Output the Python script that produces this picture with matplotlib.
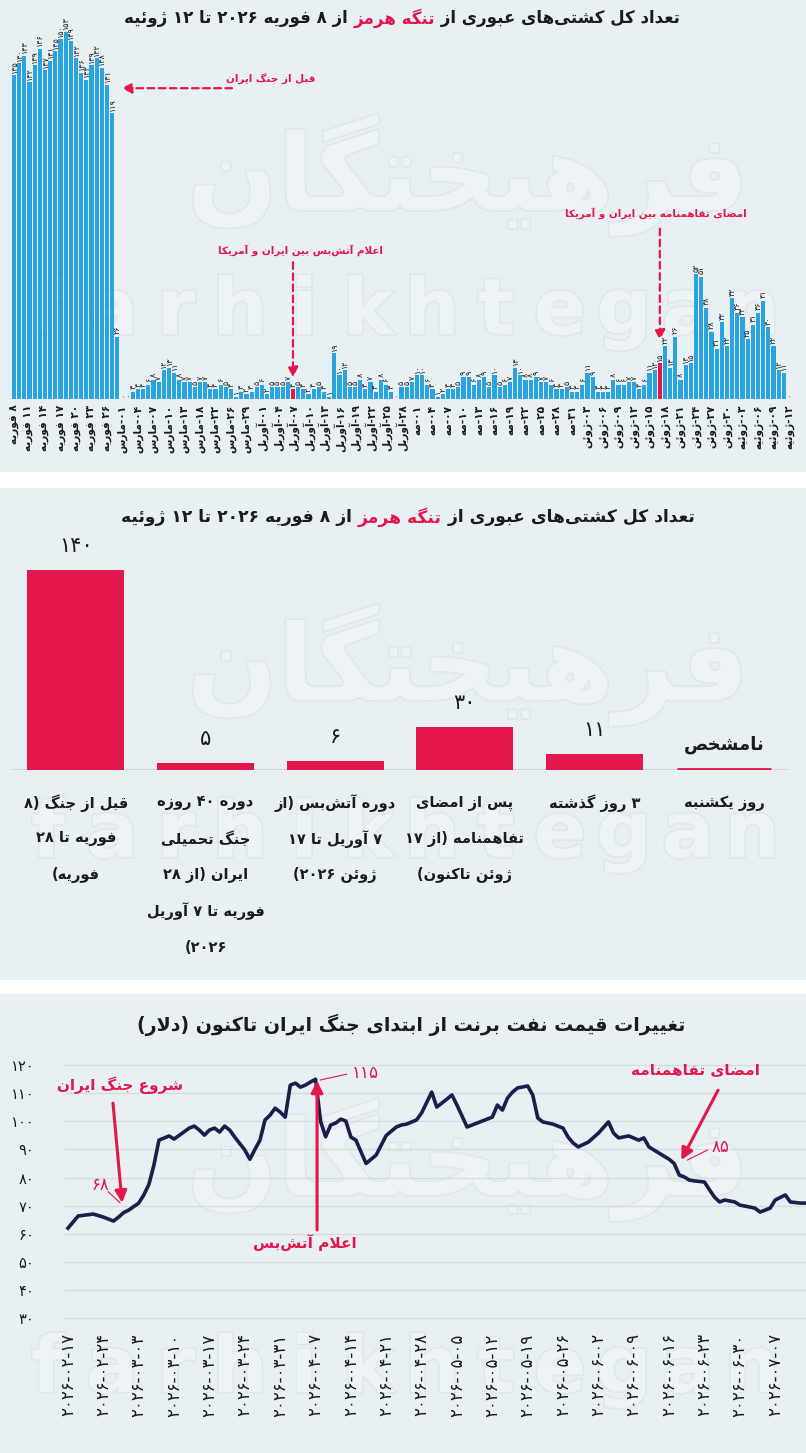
import re
import numpy as np
import pandas as pd
import matplotlib.pyplot as plt
import matplotlib.patheffects as pe
from matplotlib import transforms
from matplotlib.patches import Rectangle

plt.rcParams['font.family'] = ['DejaVu Sans']

W, H = 806, 1453
RED = '#e3174b'
BLUE = '#29a4de'
NAVY = '#1c1d4a'
BG = '#e8f0f3'
INK = '#1b1b1b'

# ---------------- data ----------------
# chart 1: ships through the strait, one bar per reported day
feb_counts = [135, 140, 143, 132, 139, 146, 137, 141, 145, 150, 153, 149, 142, 136,
              133, 139, 142, 138, 131, 119, 26]                       # 8-28 Feb
early_mar_counts = [0, 0, 3, 4, 4, 6, 8, 7, 12, 13, 11, 8, 7]          # 1-13 Mar
late_mar_counts = [7, 5, 7, 7, 4, 4, 6, 5, 4, 1, 3, 2, 3, 5]           # reported days 15-31 Mar
apr_counts = [6, 2, 5, 5, 5, 7, 4, 5, 4, 2, 4, 5, 3, 1, 19, 10, 12, 5, 5, 8,
              4, 7, 3, 8, 6, 3, 0, 5, 5, 7]
may_counts = [10, 10, 6, 4, 1, 2, 4, 4, 5, 9, 9, 6, 8, 9, 5, 10, 5, 6, 7, 13,
              10, 8, 8, 9, 7, 7, 6, 4, 4, 5, 3]
jun_counts = [3, 6, 11, 9, 3, 3, 3, 8, 6, 6, 7, 7, 4, 6, 11, 12, 15, 22, 13, 26,
              8, 14, 15, 52, 51, 38, 28, 21, 32, 22]
jul_counts = [42, 36, 34, 25, 31, 36, 41, 30, 22, 12, 11, 0]

late_mar_dates = ['2026-03-15', '2026-03-16', '2026-03-18', '2026-03-20', '2026-03-21',
                  '2026-03-22', '2026-03-24', '2026-03-25', '2026-03-26', '2026-03-27',
                  '2026-03-28', '2026-03-29', '2026-03-30', '2026-03-31']
ship_dates = (list(pd.date_range('2026-02-08', '2026-03-13'))
              + list(pd.to_datetime(late_mar_dates))
              + list(pd.date_range('2026-04-01', '2026-07-12')))
ship_counts = (feb_counts + early_mar_counts + late_mar_counts + apr_counts
               + may_counts + jun_counts + jul_counts)
highlight_dates = pd.to_datetime(['2026-04-07', '2026-06-17'])  # ceasefire, agreement

ship_ticks = ['۸ فوریه', '۱۱ فوریه', '۱۴ فوریه', '۱۷ فوریه', '۲۰ فوریه', '۲۳ فوریه', '۲۶ فوریه',
              '۰۱-مارس', '۰۴-مارس', '۰۷-مارس', '۱۰-مارس', '۱۳-مارس', '۱۸-مارس', '۲۲-مارس',
              '۲۶-مارس', '۲۹-مارس',
              '۰۱-آوریل', '۰۴-آوریل', '۰۷-آوریل', '۱۰-آوریل', '۱۳-آوریل', '۱۶-آوریل',
              '۱۹-آوریل', '۲۲-آوریل', '۲۵-آوریل', '۲۸-آوریل',
              '۰۱-مه', '۰۴-مه', '۰۷-مه', '۱۰-مه', '۱۳-مه', '۱۶-مه', '۱۹-مه', '۲۲-مه',
              '۲۵-مه', '۲۸-مه', '۳۱-مه',
              '۰۳-ژوئن', '۰۶-ژوئن', '۰۹-ژوئن', '۱۲-ژوئن', '۱۵-ژوئن', '۱۸-ژوئن', '۲۱-ژوئن',
              '۲۴-ژوئن', '۲۷-ژوئن', '۳۰-ژوئن',
              '۰۳-ژوئیه', '۰۶-ژوئیه', '۰۹-ژوئیه', '۱۲-ژوئیه']

# chart 2: average per period
period_labels = ['قبل از جنگ (۸\nفوریه تا ۲۸\nفوریه)',
                 'دوره ۴۰ روزه\nجنگ تحمیلی\nایران (از ۲۸\nفوریه تا ۷ آوریل\n۲۰۲۶)',
                 'دوره آتش‌بس (از\n۷ آوریل تا ۱۷\nژوئن ۲۰۲۶)',
                 'پس از امضای\nتفاهمنامه (از ۱۷\nژوئن تاکنون)',
                 '۳ روز گذشته',
                 'روز یکشنبه']
period_values = [140, 5, 6, 30, 11, None]

# chart 3: Brent price (USD)
brent_dates = ['2026-02-17', '2026-02-19', '2026-02-22', '2026-02-24', '2026-02-26', '2026-02-27',
               '2026-02-28', '2026-03-01', '2026-03-03', '2026-03-04', '2026-03-05', '2026-03-06',
               '2026-03-07', '2026-03-09', '2026-03-10', '2026-03-13', '2026-03-14', '2026-03-15',
               '2026-03-16', '2026-03-17', '2026-03-18', '2026-03-19', '2026-03-20', '2026-03-21',
               '2026-03-22', '2026-03-24', '2026-03-25', '2026-03-26', '2026-03-27', '2026-03-28',
               '2026-03-29', '2026-03-30', '2026-03-31', '2026-04-01', '2026-04-02', '2026-04-03',
               '2026-04-04', '2026-04-05', '2026-04-06', '2026-04-07', '2026-04-08', '2026-04-09',
               '2026-04-10', '2026-04-11', '2026-04-12', '2026-04-13', '2026-04-14', '2026-04-15',
               '2026-04-17', '2026-04-19', '2026-04-21', '2026-04-23', '2026-04-24', '2026-04-25',
               '2026-04-27', '2026-04-28', '2026-04-30', '2026-05-01', '2026-05-03', '2026-05-04',
               '2026-05-05', '2026-05-07', '2026-05-09', '2026-05-12', '2026-05-13', '2026-05-14',
               '2026-05-15', '2026-05-16', '2026-05-17', '2026-05-19', '2026-05-20', '2026-05-21',
               '2026-05-22', '2026-05-24', '2026-05-26', '2026-05-27', '2026-05-28', '2026-05-29',
               '2026-05-31', '2026-06-02', '2026-06-04', '2026-06-05', '2026-06-06', '2026-06-08',
               '2026-06-10', '2026-06-11', '2026-06-12', '2026-06-14', '2026-06-16', '2026-06-17',
               '2026-06-18', '2026-06-19', '2026-06-20', '2026-06-21', '2026-06-23', '2026-06-24',
               '2026-06-25', '2026-06-26', '2026-06-27', '2026-06-29', '2026-06-30', '2026-07-03',
               '2026-07-04', '2026-07-06', '2026-07-07', '2026-07-09', '2026-07-10', '2026-07-12',
               '2026-07-13']
brent_values = [62.0, 66.3, 67.0, 65.9, 64.5, 65.9,
                67.5, 68.4, 70.9, 73.8, 77.5, 84.4,
                93.3, 94.8, 93.7, 97.6, 98.3, 96.9,
                95.1, 96.9, 97.6, 96.2, 98.3, 96.9,
                94.4, 89.8, 86.5, 90.0, 93.3, 100.5,
                102.2, 104.7, 103.3, 101.5, 112.9, 113.6,
                112.2, 112.9, 114.0, 115.0, 100.0, 94.5,
                98.7, 99.4, 100.8, 100.1, 94.4, 93.3,
                85.0, 88.0, 95.0, 98.0, 98.7, 99.0,
                100.5, 103.0, 110.4, 105.1, 107.9, 109.4,
                105.8, 98.0, 99.4, 101.5, 105.8, 104.0,
                108.3, 110.4, 111.9, 112.6, 109.4, 101.2,
                99.8, 99.0, 97.6, 94.4, 92.3, 90.9,
                92.6, 95.8, 99.8, 95.8, 94.1, 94.8,
                93.3, 94.1, 90.9, 88.7, 86.5, 85.0,
                80.9, 80.2, 79.1, 78.8, 78.4, 75.6,
                73.0, 71.3, 72.0, 71.3, 70.2, 69.1,
                67.7, 69.1, 72.0, 73.8, 71.3, 70.9,
                70.9]
brent_yticks = [30, 40, 50, 60, 70, 80, 90, 100, 110, 120]

# ---------------- persian text helpers ----------------
FA_DIGITS = str.maketrans('0123456789', '۰۱۲۳۴۵۶۷۸۹')


def fa(v):
    return str(v).translate(FA_DIGITS)


# isolated, final, initial, medial presentation forms
FORMS = {
    'آ': '\uFE81\uFE82', 'أ': '\uFE83\uFE84', 'ؤ': '\uFE85\uFE86', 'إ': '\uFE87\uFE88',
    'ئ': '\uFE89\uFE8A\uFE8B\uFE8C', 'ا': '\uFE8D\uFE8E', 'ب': '\uFE8F\uFE90\uFE91\uFE92',
    'ة': '\uFE93\uFE94', 'ت': '\uFE95\uFE96\uFE97\uFE98', 'ث': '\uFE99\uFE9A\uFE9B\uFE9C',
    'ج': '\uFE9D\uFE9E\uFE9F\uFEA0', 'ح': '\uFEA1\uFEA2\uFEA3\uFEA4', 'خ': '\uFEA5\uFEA6\uFEA7\uFEA8',
    'د': '\uFEA9\uFEAA', 'ذ': '\uFEAB\uFEAC', 'ر': '\uFEAD\uFEAE', 'ز': '\uFEAF\uFEB0',
    'س': '\uFEB1\uFEB2\uFEB3\uFEB4', 'ش': '\uFEB5\uFEB6\uFEB7\uFEB8', 'ص': '\uFEB9\uFEBA\uFEBB\uFEBC',
    'ض': '\uFEBD\uFEBE\uFEBF\uFEC0', 'ط': '\uFEC1\uFEC2\uFEC3\uFEC4', 'ظ': '\uFEC5\uFEC6\uFEC7\uFEC8',
    'ع': '\uFEC9\uFECA\uFECB\uFECC', 'غ': '\uFECD\uFECE\uFECF\uFED0', 'ف': '\uFED1\uFED2\uFED3\uFED4',
    'ق': '\uFED5\uFED6\uFED7\uFED8', 'ل': '\uFEDD\uFEDE\uFEDF\uFEE0', 'م': '\uFEE1\uFEE2\uFEE3\uFEE4',
    'ن': '\uFEE5\uFEE6\uFEE7\uFEE8', 'ه': '\uFEE9\uFEEA\uFEEB\uFEEC', 'و': '\uFEED\uFEEE',
    'پ': '\uFB56\uFB57\uFB58\uFB59', 'چ': '\uFB7A\uFB7B\uFB7C\uFB7D', 'ژ': '\uFB8A\uFB8B',
    'ک': '\uFB8E\uFB8F\uFB90\uFB91', 'گ': '\uFB92\uFB93\uFB94\uFB95', 'ی': '\uFBFC\uFBFD\uFBFE\uFBFF',
}
LAM_ALEF = {'ا': '\uFEFB\uFEFC', 'آ': '\uFEF5\uFEF6', 'أ': '\uFEF7\uFEF8', 'إ': '\uFEF9\uFEFA'}
MIRROR = {'(': ')', ')': '('}


def shape(s):
    out = []
    i = 0
    while i < len(s):
        c = s[i]
        if c not in FORMS:
            if c != '\u200c':
                out.append(c)
            i += 1
            continue
        prev = i > 0 and s[i - 1] in FORMS and len(FORMS[s[i - 1]]) == 4
        if c == 'ل' and i + 1 < len(s) and s[i + 1] in LAM_ALEF:
            out.append(LAM_ALEF[s[i + 1]][1 if prev else 0])
            i += 2
            continue
        f = FORMS[c]
        nxt = len(f) == 4 and i + 1 < len(s) and s[i + 1] in FORMS
        if prev and nxt:
            out.append(f[3])
        elif prev:
            out.append(f[1])
        elif nxt:
            out.append(f[2])
        else:
            out.append(f[0])
        i += 1
    return ''.join(out)


def rtl(s):
    lines = []
    for line in s.split('\n'):
        runs = re.findall(r'[0-9۰-۹]+|[^0-9۰-۹]+', shape(line))
        vis = []
        for r in reversed(runs):
            if r[0] in '0123456789۰۱۲۳۴۵۶۷۸۹':
                vis.append(r)
            else:
                vis.append(''.join(MIRROR.get(ch, ch) for ch in reversed(r)))
        lines.append(''.join(vis))
    return '\n'.join(lines)


# ---------------- figure ----------------
fig = plt.figure(figsize=(W / 100, H / 100), dpi=100)
fig.patch.set_facecolor('white')
renderer = fig.canvas.get_renderer()


def px_axes(left, top, right, bottom):
    ax = fig.add_axes([left / W, 1 - bottom / H, (right - left) / W, (bottom - top) / H])
    ax.set_facecolor('none')
    for sp in ax.spines.values():
        sp.set_visible(False)
    return ax


def rich_title(cx, y, parts, width_px, size=12):
    texts = [fig.text(0, 1 - y / H, rtl(s), color=c, fontsize=size, fontweight='bold',
                      ha='left', va='center') for s, c in parts]
    total = sum(t.get_window_extent(renderer).width for t in texts)
    for t in texts:
        t.set_fontsize(size * width_px / total)
    widths = [t.get_window_extent(renderer).width for t in texts]
    x = cx + sum(widths) / 2
    for t, w in zip(texts, widths):
        x -= w
        t.set_x(x / W)


# panel backgrounds
for top, bottom in [(0, 472), (488, 980), (994, H)]:
    fig.add_artist(Rectangle((0, 1 - bottom / H), 1, (bottom - top) / H, transform=fig.transFigure,
                             facecolor=BG, edgecolor='none', zorder=-10))

# faint watermark
wm = [pe.withStroke(linewidth=2.5, foreground='#e0e8eb')]
for fa_y, en_y in [(175, 312), (665, 835), (1160, 1370)]:
    fig.text(468 / W, 1 - fa_y / H, rtl('فرهیختگان'), fontsize=76, fontweight='bold',
             color='#eef4f6', ha='center', va='center', zorder=-5, path_effects=wm)
    for k, ch in enumerate('farhikhtegan'):
        fig.text((48 + k * 64) / W, 1 - en_y / H, ch, fontsize=56, fontweight='bold',
                 color='#eef4f6', ha='center', va='center', zorder=-5, path_effects=wm)

# ======== chart 1: daily transits ========
ax1 = px_axes(10.9, 15, 792.1, 399)
x1 = np.arange(len(ship_counts))
bar_colors = [RED if d in highlight_dates else BLUE for d in ship_dates]
ax1.bar(x1, ship_counts, width=0.82, color=bar_colors, zorder=2)
for i, v in enumerate(ship_counts):
    ax1.text(i, v + 1.0, fa(v), rotation=90, ha='center', va='bottom', fontsize=5.8, color=INK)
ax1.set_xlim(-0.6, len(ship_counts) - 0.4)
ax1.set_ylim(0, 160)
ax1.set_yticks([])
ax1.set_xticks(x1[::3])
ax1.set_xticklabels([rtl(t) for t in ship_ticks], rotation=90, fontsize=7.6,
                    fontweight='bold', color=INK)
ax1.tick_params(axis='x', length=0, pad=4)

rich_title(402, 18, [('تعداد کل کشتی‌های عبوری از ', INK), ('تنگه هرمز', RED),
                     (' از ۸ فوریه ۲۰۲۶ تا ۱۲ ژوئیه', INK)], 555)

dash = dict(arrowstyle='-|>,head_length=0.6,head_width=0.3', color=RED, lw=1.6,
            ls=(0, (3, 2)), shrinkA=0, shrinkB=0)
cease_i = ship_dates.index(pd.Timestamp('2026-04-07'))
deal_i = ship_dates.index(pd.Timestamp('2026-06-17'))
ax1.annotate('', xy=(20.8, 129.5), xytext=(42.2, 129.5), arrowprops=dash)
ax1.text(58.4, 133, rtl('قبل از جنگ ایران'), color=RED, fontsize=7.5, fontweight='bold',
         ha='right', va='center')
ax1.annotate('', xy=(cease_i, 9), xytext=(cease_i, 57), arrowprops=dash)
ax1.text(cease_i + 1.5, 62, rtl('اعلام آتش‌بس بین ایران و آمریکا'), color=RED, fontsize=7.5,
         fontweight='bold', ha='center', va='center')
ax1.annotate('', xy=(deal_i, 24.5), xytext=(deal_i, 71), arrowprops=dash)
ax1.text(deal_i - 0.8, 77.5, rtl('امضای تفاهمنامه بین ایران و آمریکا'), color=RED, fontsize=7.5,
         fontweight='bold', ha='center', va='center')

# ======== chart 2: averages per period ========
ax2 = px_axes(11, 556, 789, 770)
x2 = np.arange(len(period_values))
vals2 = np.array([np.nan if v is None else v for v in period_values], dtype=float)
ax2.bar(x2, np.nan_to_num(vals2), width=0.75, color=RED, zorder=2)
ax2.axhline(0, color='#cbd3d7', lw=1.2, zorder=1)
for i, v in enumerate(vals2):
    if np.isnan(v):
        ax2.plot([i - 0.36, i + 0.36], [0.7, 0.7], color=RED, lw=2, solid_capstyle='butt', zorder=3)
        ax2.text(i, 17.5, rtl('نامشخص'), fontsize=13, fontweight='bold', color=INK,
                 ha='center', va='center')
    else:
        ax2.text(i, v + 17, fa(int(v)), fontsize=15, color=INK, ha='center', va='center')
ax2.set_xlim(-0.5, len(period_values) - 0.5)
ax2.set_ylim(0, 150)
ax2.set_xticks([])
ax2.set_yticks([])
lab_tr = transforms.blended_transform_factory(ax2.transData, fig.transFigure)
for i, lab in enumerate(period_labels):
    for k, line in enumerate(lab.split('\n')):
        ax2.text(i, 1 - (803 + 36 * k) / H, rtl(line), transform=lab_tr, fontsize=10.5,
                 fontweight='bold', color=INK, ha='center', va='center')

rich_title(408, 517, [('تعداد کل کشتی‌های عبوری از ', INK), ('تنگه هرمز', RED),
                      (' از ۸ فوریه ۲۰۲۶ تا ۱۲ ژوئیه', INK)], 571)

# ======== chart 3: Brent ========
ax3 = px_axes(65, 1050, 806, 1325)
bd = pd.to_datetime(brent_dates)
ax3.plot(bd, brent_values, color=NAVY, lw=2.6, solid_joinstyle='round', zorder=3)
start = pd.Timestamp('2026-02-17')
day = pd.Timedelta(days=1)
ax3.set_xlim(start - 0.6 * day, start + 146.1 * day)
ax3.set_ylim(27.5, 125.4)
ax3.set_yticks(brent_yticks)
ax3.set_yticklabels([fa(v) for v in brent_yticks], fontsize=10.5, color=INK)
ax3.tick_params(axis='y', length=0, pad=22)
ax3.grid(axis='y', color='#d4dce0', lw=0.9)
ax3.set_axisbelow(True)
xt = pd.date_range('2026-02-17', '2026-07-07', freq='7D')
ax3.set_xticks(xt)
ax3.set_xticklabels([fa(t.strftime('%Y-%m-%d')) for t in xt], rotation=90, fontsize=12, color=INK)
ax3.tick_params(axis='x', length=0, pad=6)

rich_title(411, 1025, [('تغییرات قیمت نفت برنت از ابتدای جنگ ایران تاکنون (دلار)', INK)], 547)

solid = dict(arrowstyle='-|>,head_length=0.7,head_width=0.35', color=RED, lw=2.2,
             shrinkA=0, shrinkB=0)
thin = dict(arrowstyle='-', color=RED, lw=0.8, shrinkA=0, shrinkB=0)
war = pd.Timestamp('2026-02-28')
cease = pd.Timestamp('2026-04-07')
deal = pd.Timestamp('2026-06-17')
ax3.annotate('', xy=(war - 0.3 * day, 71), xytext=(war - 2.1 * day, 106.5), arrowprops=solid)
ax3.text(war - 0.7 * day, 113, rtl('شروع جنگ ایران'), color=RED, fontsize=11, fontweight='bold',
         ha='center', va='center')
ax3.annotate('', xy=(war - 0.7 * day, 71), xytext=(war - 3.1 * day, 75), arrowprops=thin)
ax3.text(war - 4.7 * day, 77.3, fa(68), color=RED, fontsize=12, ha='center', va='center')
ax3.annotate('', xy=(cease + 0.3 * day, 114.5), xytext=(cease + 0.3 * day, 61.3), arrowprops=solid)
ax3.text(cease - 2.1 * day, 56.7, rtl('اعلام آتش‌بس'), color=RED, fontsize=11, fontweight='bold',
         ha='center', va='center')
ax3.annotate('', xy=(cease + 0.9 * day, 114.7), xytext=(cease + 6.2 * day, 116.8), arrowprops=thin)
ax3.text(cease + 9.8 * day, 117.2, fa(115), color=RED, fontsize=12, ha='center', va='center')
ax3.annotate('', xy=(deal + 1.4 * day, 86.2), xytext=(deal + 8.7 * day, 111.1), arrowprops=solid)
ax3.text(deal + 4.2 * day, 118.3, rtl('امضای تفاهمنامه'), color=RED, fontsize=11, fontweight='bold',
         ha='center', va='center')
ax3.annotate('', xy=(deal + 2.6 * day, 86.2), xytext=(deal + 6.6 * day, 89.8), arrowprops=thin)
ax3.text(deal + 9.1 * day, 90.9, fa(85), color=RED, fontsize=12, ha='center', va='center')

fig.savefig('out.png', dpi=100, facecolor=fig.get_facecolor())
